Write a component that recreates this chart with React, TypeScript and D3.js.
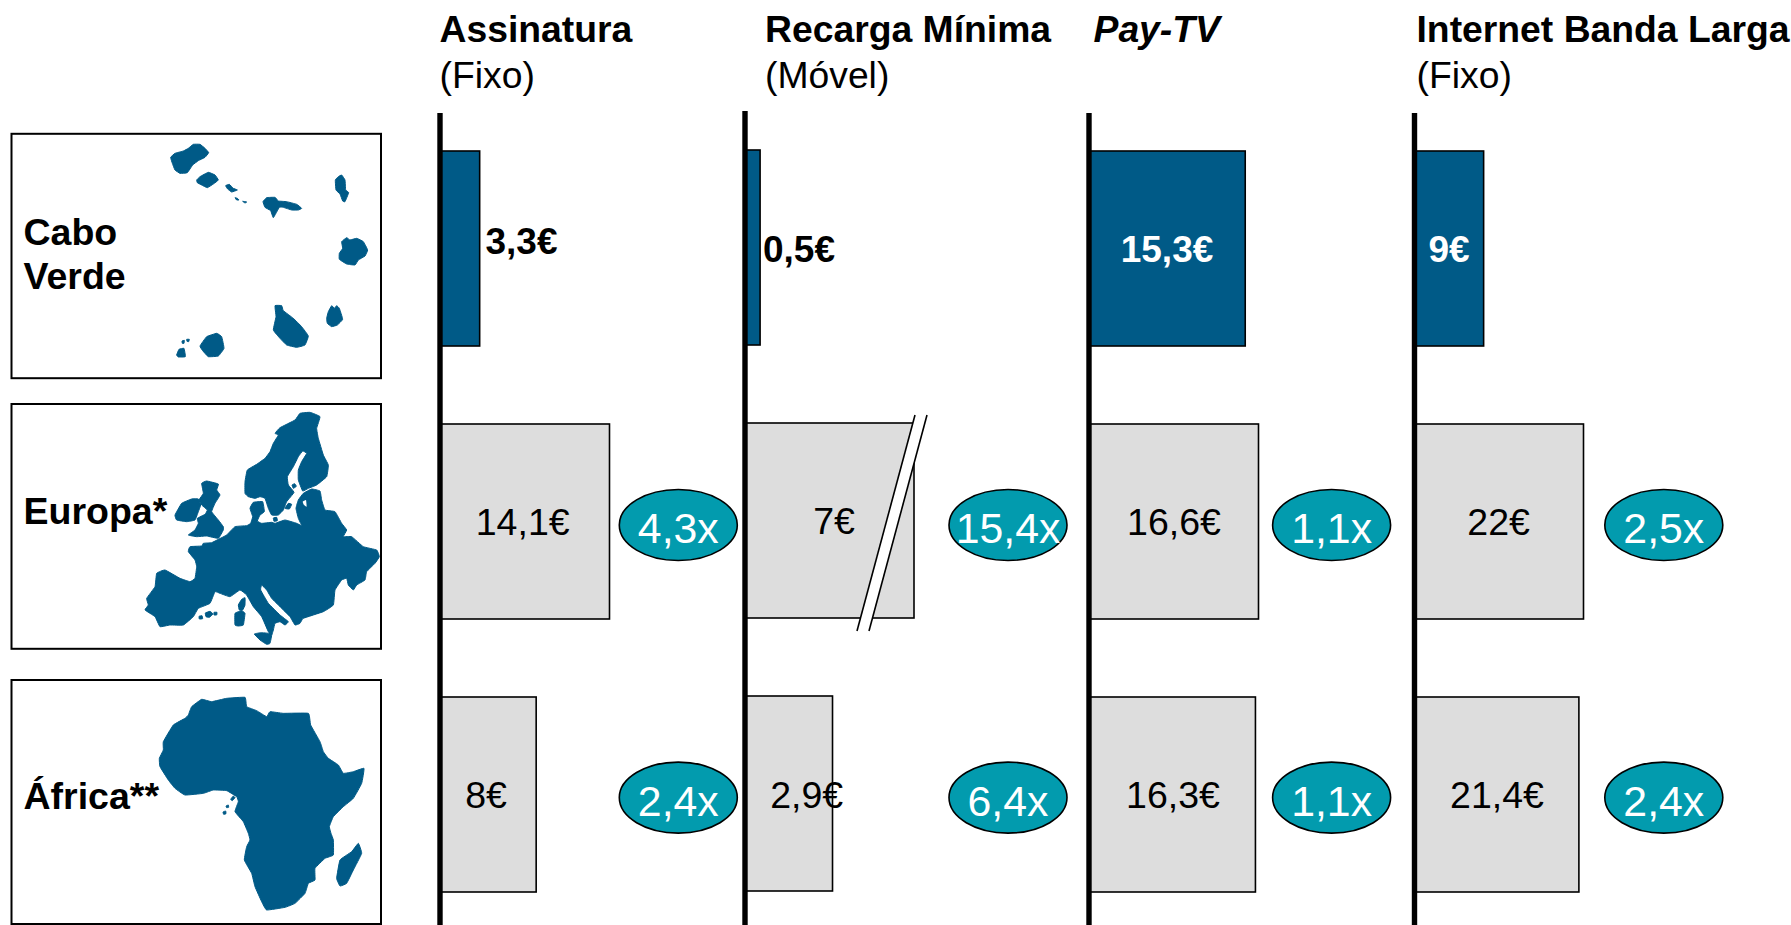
import React from "react";
import * as d3 from "d3";

// ---- data ----
const regions = ["Cabo Verde", "Europa*", "África**"];
const columnsTitles = ["Assinatura", "Recarga Mínima", "Pay-TV", "Internet Banda Larga"];
const columnsSubtitles = ["(Fixo)", "(Móvel)", "", "(Fixo)"];
const assinatura = [3.3, 14.1, 8];
const recarga = [0.5, 7, 2.9];
const payTv = [15.3, 16.6, 16.3];
const internet = [9, 22, 21.4];
const assinaturaMult = [4.3, 2.4];
const recargaMult = [15.4, 6.4];
const payTvMult = [1.1, 1.1];
const internetMult = [2.5, 2.4];

// map outlines (traced, in 3x crop space)
const caboVerde: number[][][] = [
  [[512,112],[525,100],[550,93],[565,85],[580,73],[600,73],[615,85],[626,98],[615,112],[595,122],[578,135],[562,158],[540,160],[525,150],[517,130]],
  [[590,180],[600,170],[625,157],[645,165],[655,180],[640,192],[622,203],[605,195],[592,188]],
  [[677,197],[688,193],[700,205],[712,210],[695,216],[683,207]],
  [[705,233],[712,235],[717,240],[710,240]],
  [[728,244],[740,246],[735,249]],
  [[789,245],[800,233],[825,232],[835,243],[860,245],[890,253],[905,265],[895,270],[875,270],[850,262],[838,262],[820,293],[812,272],[795,262]],
  [[1006,180],[1015,170],[1025,165],[1035,180],[1037,210],[1046,218],[1035,245],[1028,243],[1020,222],[1008,210]],
  [[1025,365],[1040,353],[1050,360],[1070,355],[1090,365],[1103,390],[1095,408],[1075,420],[1065,435],[1040,432],[1018,418],[1018,400],[1028,385]],
  [[985,575],[995,557],[1003,565],[1010,557],[1018,565],[1028,598],[1012,615],[995,620],[982,610],[980,595]],
  [[825,557],[845,557],[850,572],[880,595],[905,620],[925,648],[915,675],[890,682],[860,675],[840,655],[820,630],[828,590]],
  [[600,678],[620,650],[650,640],[665,650],[672,685],[655,708],[625,710],[608,692]],
  [[530,705],[537,688],[552,685],[556,710],[535,711]],
  [[546,663],[553,661],[552,670],[547,670]],
  [[560,658],[568,658],[566,665],[561,664]],
];
const europa: number[][][] = [
  // mainland
  [[565,470],[570,455],[605,453],[610,445],[635,443],[655,433],[680,420],[705,395],[740,392],[752,385],[758,365],[750,340],[760,322],[788,320],[793,350],[780,360],[772,378],[785,385],[815,382],[825,385],[855,375],[890,385],[905,392],[895,370],[888,340],[895,315],[910,295],[935,282],[960,288],[965,315],[975,345],[1005,350],[1025,385],[1040,405],[1030,425],[1055,425],[1090,455],[1130,465],[1138,485],[1125,505],[1100,530],[1095,555],[1070,570],[1060,585],[1045,570],[1040,550],[1025,555],[1005,585],[1000,630],[970,650],[910,670],[900,685],[885,690],[870,665],[840,635],[815,610],[800,585],[785,570],[782,585],[805,625],[840,660],[865,680],[855,690],[840,680],[825,685],[820,705],[815,720],[805,710],[785,665],[760,635],[740,600],[720,585],[690,605],[660,595],[645,590],[630,625],[595,640],[580,665],[550,690],[510,690],[480,695],[465,665],[435,645],[445,630],[440,610],[465,575],[470,535],[495,525],[540,550],[570,560],[585,550],[590,515],[585,495]],
  // Scandinavia
  [[735,295],[735,260],[742,225],[770,208],[795,190],[810,170],[820,145],[835,120],[825,115],[840,98],[885,75],[900,55],[930,52],[960,65],[950,100],[955,130],[970,180],[985,210],[980,245],[950,270],[925,280],[908,288],[895,255],[895,225],[905,200],[920,175],[908,168],[895,185],[880,215],[862,245],[865,270],[882,292],[860,320],[850,345],[835,360],[815,360],[805,340],[795,310],[780,305],[765,310],[745,305]],
  // Great Britain, Ireland
  [[605,265],[620,258],[655,267],[650,285],[660,300],[645,325],[635,350],[655,375],[670,395],[670,405],[655,430],[620,423],[590,425],[565,420],[585,405],[595,385],[592,370],[615,358],[622,345],[605,330],[597,315],[610,295]],
  [[525,360],[545,325],[575,312],[595,312],[602,330],[595,350],[585,375],[560,380],[530,375]],
  // Baltic islands
  [[855,340],[865,325],[875,328],[868,342]],
  [[876,270],[884,266],[889,274],[880,280]],
  [[820,369],[830,367],[832,377],[822,379]],
  // Balearics, Corsica, Sardinia, Sicily
  [[597,664],[606,662],[608,671],[598,672]],
  [[616,654],[630,649],[639,657],[628,667],[618,665]],
  [[642,652],[651,652],[650,660],[642,660]],
  [[715,630],[725,613],[735,608],[735,630],[728,645],[718,645]],
  [[705,655],[725,647],[735,655],[730,690],[715,693],[705,690]],
  [[763,717],[785,713],[815,717],[810,745],[800,748],[780,735]],
];
const europaHole: number[][] = [[908,320],[918,315],[920,335],[912,330]];
const africa: number[][][] = [
  [[565,135],[575,110],[605,88],[635,95],[680,85],[735,82],[740,110],[770,122],[800,140],[810,125],[850,130],[925,130],[932,165],[960,215],[970,245],[985,265],[1015,285],[1030,310],[1060,305],[1092,295],[1085,340],[1060,385],[1030,410],[1000,440],[988,470],[993,490],[1000,510],[1000,555],[975,565],[945,595],[945,630],[925,640],[915,670],[885,700],[855,712],[800,720],[785,695],[765,650],[755,610],[733,570],[740,530],[750,510],[745,490],[730,455],[705,425],[715,395],[710,380],[680,362],[640,360],[610,370],[555,375],[525,355],[505,330],[480,290],[478,265],[490,240],[490,215],[520,165],[555,145]],
  [[1010,625],[1020,570],[1055,545],[1075,520],[1085,550],[1060,600],[1040,640],[1020,648]],
  [[692,388],[700,378],[705,383],[697,392]],
  [[678,408],[685,405],[686,412],[680,413]],
  [[669,426],[677,423],[678,431],[671,433]],
];

// ---- layout ----
const NAVY = "#005A87";
const TEAL = "#029BAE";
const GREY = "#DDDDDD";
const FONT = "'Liberation Sans', Arial, sans-serif";

const columns = [
  { values: assinatura, mult: assinaturaMult, x0: 440, cap: 14.1, span: 169.5, ellipseX: 678.3, titleX: 439.5, dy: 0, axisTop: 113 },
  { values: recarga, mult: recargaMult, x0: 745, cap: 5.6, span: 169, ellipseX: 1008, titleX: 765, dy: -1, axisTop: 111 },
  { values: payTv, mult: payTvMult, x0: 1089, cap: 16.6, span: 169.5, ellipseX: 1331.6, titleX: 1093.5, dy: 0, axisTop: 113 },
  { values: internet, mult: internetMult, x0: 1414.5, cap: 22, span: 169, ellipseX: 1663.8, titleX: 1416.5, dy: 0, axisTop: 113 },
];

const y = d3.scalePoint<string>().domain(regions).range([248.5, 794.5]);
const BAR_H = 195;

const locale = d3.formatLocale({ decimal: ",", thousands: ".", grouping: [3], currency: ["", "€"] });
const euro = (v: number) => locale.format("~f")(v) + "€";
const times = (v: number) => locale.format(".1f")(v) + "x";

// where each value label sits, as [x, baseline, anchor]
const labelSpots: [number, number, string][][] = [
  [[485.5, 254, "start"], [522.7, 535, "middle"], [486, 808, "middle"]],
  [[763, 262, "start"], [834, 534, "middle"], [806.7, 808, "middle"]],
  [[1167, 262, "middle"], [1174, 535, "middle"], [1173, 808, "middle"]],
  [[1449, 262, "middle"], [1498.6, 535, "middle"], [1497, 808, "middle"]],
];
const boxes = [
  { top: 133.8, bottom: 378.2, map: caboVerde, ox: 0, oy: 120, lines: ["Cabo", "Verde"], base: [245, 289] },
  { top: 404, bottom: 648.8, map: europa, ox: 0, oy: 395, lines: ["Europa*"], base: [523.5] },
  { top: 680, bottom: 924, map: africa, ox: 0, oy: 670, lines: ["África**"], base: [809] },
];
const ellipseY = [525, 797.6];

const mapPath = d3.line().curve(d3.curveCardinalClosed.tension(0.7));

export default function App() {
  return (
    <svg width={1791} height={925} style={{ position: "absolute", left: 0, top: 0, display: "block", background: "#fff" }} fontFamily={FONT}>
      {/* region boxes */}
      {boxes.map((b, i) => (
        <g key={i}>
          <rect x={11.5} y={b.top} width={369.5} height={b.bottom - b.top} fill="#fff" stroke="#000" strokeWidth={2} />
          <g transform={`translate(${b.ox},${b.oy}) scale(${1 / 3})`}>
            {b.map.map((poly, j) => (
              <path key={j} d={mapPath(poly as [number, number][]) as string} fill={NAVY} stroke={NAVY} strokeWidth={3} strokeLinejoin="round" />
            ))}
            {b.map === europa && <path d={mapPath(europaHole as [number, number][]) as string} fill="#fff" />}
          </g>
          {b.lines.map((t, j) => (
            <text key={j} x={23.5} y={b.base[j]} fontSize={37.5} fontWeight="bold" fill="#000">{t}</text>
          ))}
        </g>
      ))}

      {columns.map((c, ci) => {
        const x = d3.scaleLinear().domain([0, c.cap]).range([c.x0, c.x0 + c.span]).clamp(true);
        return (
          <g key={ci}>
            <text x={c.titleX} y={42} fontSize={37.3} fontWeight="bold" fontStyle={ci === 2 ? "italic" : "normal"} fill="#000">
              {columnsTitles[ci]}
            </text>
            {columnsSubtitles[ci] && (
              <text x={c.titleX} y={87.5} fontSize={37.3} fill="#000">{columnsSubtitles[ci]}</text>
            )}
            {c.values.map((v, ri) => {
              const top = (y(regions[ri]) as number) - BAR_H / 2 + c.dy;
              const right = x(v);
              const clipped = v > c.cap;
              return (
                <g key={ri}>
                  <rect x={c.x0} y={top} width={right - c.x0} height={BAR_H}
                    fill={ri === 0 ? NAVY : GREY} stroke="#000" strokeWidth={1.6} />
                  {clipped && (() => {
                    const t = top - 8, b = top + BAR_H + 13, d = 58;
                    return (
                      <g>
                        <polygon points={`${right + 1},${t} ${right + 13},${t} ${right + 13 - d},${b} ${right + 1 - d},${b}`} fill="#fff" />
                        <line x1={right + 1} y1={t} x2={right + 1 - d} y2={b} stroke="#000" strokeWidth={1.6} />
                        <line x1={right + 13} y1={t} x2={right + 13 - d} y2={b} stroke="#000" strokeWidth={1.6} />
                      </g>
                    );
                  })()}
                </g>
              );
            })}
            <line x1={c.x0} x2={c.x0} y1={c.axisTop} y2={925} stroke="#000" strokeWidth={5.4} />
            {c.values.map((v, ri) => {
              const [lx, ly, anchor] = labelSpots[ci][ri];
              return (
                <text key={ri} x={lx} y={ly} textAnchor={anchor as any} fontSize={ri === 0 ? 37 : 37.5}
                  fontWeight={ri === 0 ? "bold" : "normal"} fill={ri === 0 && ci >= 2 ? "#fff" : "#000"}>
                  {euro(v)}
                </text>
              );
            })}
            {c.mult.map((m, mi) => (
              <g key={mi}>
                <ellipse cx={c.ellipseX} cy={ellipseY[mi]} rx={59} ry={35.5} fill={TEAL} stroke="#000" strokeWidth={1.6} />
                <text x={c.ellipseX} y={ellipseY[mi] + 18} textAnchor="middle" fontSize={42.8} fill="#fff">{times(m)}</text>
              </g>
            ))}
          </g>
        );
      })}
    </svg>
  );
}
